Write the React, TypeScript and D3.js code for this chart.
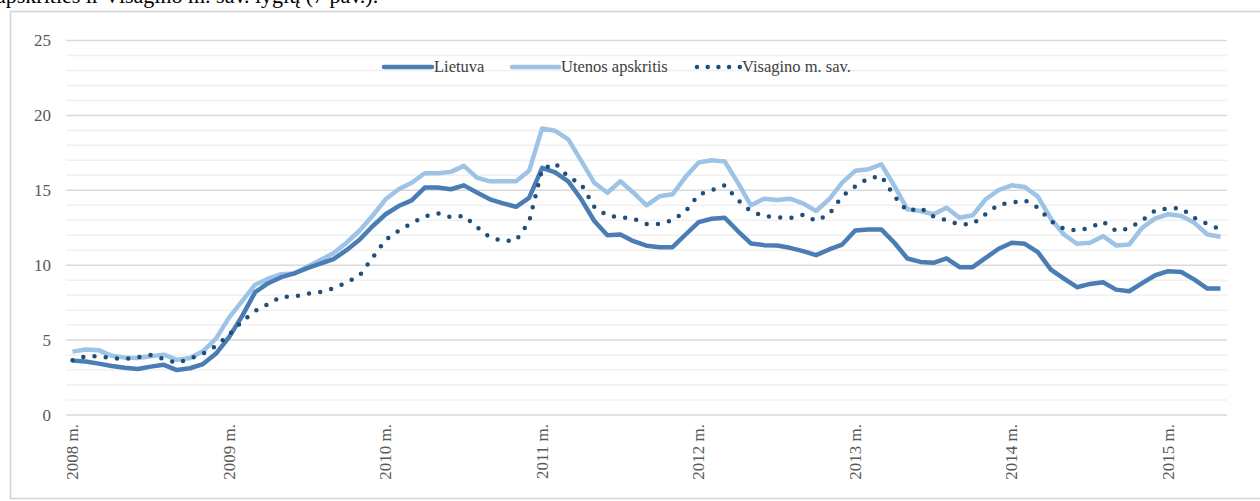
import React, { useEffect } from "react";
import * as d3 from "d3";

// monthly values, 2008 m. sausis – 2015 m. gegužė
const yearLabels = ["2008 m.", "2009 m.", "2010 m.", "2011 m.", "2012 m.", "2013 m.", "2014 m.", "2015 m."];
const yTicks = [0, 5, 10, 15, 20, 25];

const lietuva = [
  3.63, 3.57, 3.43, 3.27, 3.15, 3.07, 3.23, 3.35, 3.0, 3.12, 3.4, 4.1,
  5.2, 6.6, 8.2, 8.8, 9.2, 9.45, 9.8, 10.1, 10.4, 11.0, 11.7, 12.6,
  13.4, 13.95, 14.33, 15.18, 15.18, 15.07, 15.33, 14.85, 14.4, 14.13, 13.9, 14.5,
  16.5, 16.2, 15.6, 14.4, 12.95, 12.0, 12.05, 11.6, 11.3, 11.2, 11.2, 12.05,
  12.88, 13.1, 13.17, 12.28, 11.45, 11.34, 11.32, 11.16, 10.94, 10.67, 11.05, 11.38,
  12.32, 12.39, 12.39, 11.5, 10.45, 10.22, 10.16, 10.45, 9.87, 9.87, 10.49, 11.1,
  11.5, 11.43, 10.87, 9.71, 9.1, 8.53, 8.75, 8.86, 8.37, 8.26, 8.8, 9.33,
  9.6, 9.55, 9.04, 8.44, 8.44,
];

const utenos = [
  4.23, 4.37, 4.33, 3.95, 3.83, 3.8, 3.92, 4.03, 3.68, 3.8, 4.25, 5.1,
  6.5, 7.6, 8.7, 9.1, 9.4, 9.45, 9.9, 10.35, 10.8, 11.5, 12.3, 13.3,
  14.4, 15.07, 15.5, 16.14, 16.14, 16.23, 16.63, 15.85, 15.6, 15.6, 15.6, 16.3,
  19.13, 18.97, 18.4, 16.96, 15.5, 14.84, 15.6, 14.84, 14.0, 14.6, 14.73, 15.9,
  16.85, 17.0, 16.92, 15.51, 14.0, 14.44, 14.35, 14.44, 14.13, 13.62, 14.4, 15.51,
  16.3, 16.4, 16.74, 15.29, 13.73, 13.62, 13.4, 13.84, 13.17, 13.33, 14.4, 15.02,
  15.33, 15.22, 14.58, 13.1, 12.05, 11.43, 11.5, 11.94, 11.32, 11.38, 12.5, 13.13,
  13.4, 13.28, 12.83, 12.05, 11.9,
];

const visagino = [
  3.65, 3.92, 3.93, 3.8, 3.74, 3.85, 4.0, 3.74, 3.48, 3.75, 4.1, 4.6,
  5.35, 6.25, 6.95, 7.4, 7.9, 7.9, 8.1, 8.22, 8.45, 8.85, 9.3, 10.5,
  11.7, 12.3, 12.8, 13.25, 13.46, 13.2, 13.3, 12.55, 11.85, 11.62, 11.65, 12.9,
  16.4, 16.8, 15.9, 15.4, 13.9, 13.3, 13.2, 13.1, 12.75, 12.75, 13.0, 13.6,
  14.7, 15.0, 15.33, 14.35, 13.6, 13.27, 13.2, 13.15, 13.37, 12.95, 13.4, 14.6,
  15.25, 15.8, 15.95, 14.6, 13.6, 13.82, 13.25, 13.0, 12.72, 12.75, 13.4, 14.05,
  14.18, 14.33, 13.85, 12.95, 12.43, 12.32, 12.5, 12.9, 12.28, 12.45, 13.0, 13.65,
  13.8, 13.8, 13.15, 12.75, 12.4,
];

const FONT = "'Liberation Serif', 'Times New Roman', serif";

const App = () => {
  useEffect(() => {
    document.body.style.margin = "0";
  }, []);

  const W = 1260;
  const H = 501;
  const plotLeft = 66;
  const plotRight = 1227;

  const months = d3.range(lietuva.length);
  const x = d3.scalePoint<number>().domain(months).range([plotLeft, plotRight]).padding(0.5);
  const y = d3.scaleLinear().domain([0, 25]).range([415, 40.5]);

  const line = d3
    .line<number>()
    .x((_, i) => x(i) as number)
    .y((d) => y(d));

  const minor = d3.range(0, 26).filter((v) => v % 5 !== 0);

  return (
    <svg width={W} height={H} style={{ display: "block" }} fontFamily={FONT}>
      <rect width={W} height={H} fill="#fff" />
      {/* cut-off line of the surrounding document */}
      <text x={-4} y={3} fontSize={22} fill="#000">
        apskrities ir Visagino m. sav. lygių (7 pav.).
      </text>
      <rect x={10.5} y={11.5} width={1262} height={487} fill="#fff" stroke="#d4d4d4" strokeWidth={1.5} />

      <g>
        {minor.map((v) => (
          <line key={"m" + v} x1={plotLeft} x2={plotRight} y1={y(v)} y2={y(v)} stroke="#f0f0f0" strokeWidth={1.5} />
        ))}
        {yTicks.map((v) => (
          <line key={"g" + v} x1={plotLeft} x2={plotRight} y1={y(v)} y2={y(v)} stroke="#d9d9d9" strokeWidth={1.5} />
        ))}
      </g>

      <g fill="#595959" fontSize={17}>
        {yTicks.map((v) => (
          <text key={"t" + v} x={51} y={y(v)} dy="0.35em" textAnchor="end">
            {v}
          </text>
        ))}
        {yearLabels.map((lab, k) => {
          const xx = x(k * 12) as number;
          return (
            <text key={lab} transform={`translate(${xx},424) rotate(-90)`} textAnchor="end" dy="0.33em">
              {lab}
            </text>
          );
        })}
      </g>

      <path d={line(utenos) || ""} fill="none" stroke="#9dc3e6" strokeWidth={4.5} strokeLinejoin="round" />
      <path d={line(lietuva) || ""} fill="none" stroke="#4a7db4" strokeWidth={4.5} strokeLinejoin="round" />
      <path
        d={line(visagino) || ""}
        fill="none"
        stroke="#1f4e79"
        strokeWidth={4.5}
        strokeLinecap="round"
        strokeDasharray="0 11.3"
      />

      <g fontSize={16.5} fill="#404040">
        <line x1={384} x2={432} y1={67} y2={67} stroke="#4a7db4" strokeWidth={4.5} strokeLinecap="round" />
        <text x={434} y={67} dy="0.33em">Lietuva</text>
        <line x1={512} x2={559} y1={67} y2={67} stroke="#9dc3e6" strokeWidth={4.5} strokeLinecap="round" />
        <text x={561} y={67} dy="0.33em">Utenos apskritis</text>
        <line x1={697} x2={740} y1={67} y2={67} stroke="#1f4e79" strokeWidth={4.5} strokeLinecap="round" strokeDasharray="0 10.7" />
        <text x={742} y={67} dy="0.33em">Visagino m. sav.</text>
      </g>
    </svg>
  );
};

export default App;
